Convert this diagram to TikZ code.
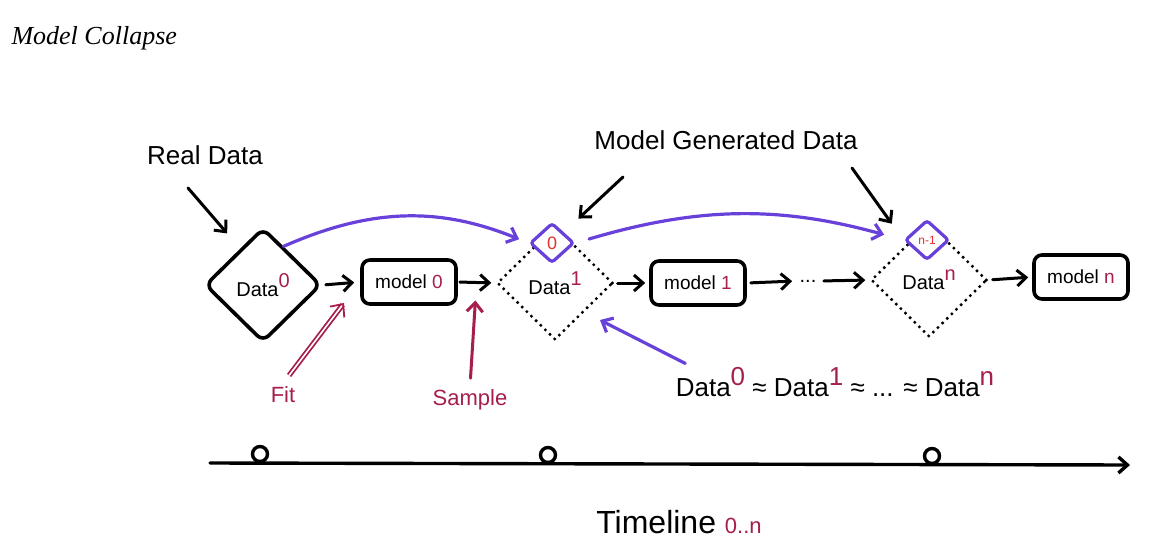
\documentclass[tikz,border=0pt]{standalone}
\usepackage{fontspec}
\setmainfont{Liberation Sans}
\newfontfamily\titlefont{Liberation Serif}
\usetikzlibrary{shapes.geometric,arrows.meta}
\definecolor{genpurple}{HTML}{6741D9}
\definecolor{fitred}{HTML}{A61E4D}
\definecolor{smallred}{HTML}{E03131}
\newcommand{\upnum}[1]{\raisebox{0.85ex}{\color{fitred}#1}}
\newcommand{\fsz}[1]{\fontsize{#1}{#1}\selectfont}
\begin{document}
\begin{tikzpicture}[x=1pt,y=-1pt,
	arr/.style={-{Straight Barb[length=9pt,width=16pt]},line width=3pt,line cap=round},
	purplearr/.style={arr,draw=genpurple,line width=3.2pt},
	redarr/.style={arr,draw=fitred},
	fitarr/.style={-{Straight Barb[length=10pt,width=18pt]},draw=fitred,double=white,double distance=1.6pt,line width=1.8pt},
	datanode/.style={diamond,draw,line width=3.6pt,rounded corners=8pt,minimum width=116pt,minimum height=114pt,inner sep=0pt,font=\fsz{20}},
	gennode/.style={datanode,rounded corners=0pt,line width=3.4pt,dash pattern=on 0pt off 6.5pt,line cap=round},
	smallnode/.style={diamond,draw=genpurple,fill=white,line width=3.2pt,rounded corners=3pt,minimum width=44pt,minimum height=40pt,inner sep=0pt,text=smallred},
	modelnode/.style={rectangle,draw,line width=3.6pt,rounded corners=8pt,minimum width=94pt,minimum height=44pt,font=\fsz{19}},
	note/.style={font=\fsz{26}},
	tick/.style={circle,draw,fill=white,line width=3.4pt,minimum width=12pt,minimum height=15pt,inner sep=0pt}]
	\useasboundingbox (0,0) rectangle (1174,554);
	\node[anchor=west,font=\titlefont\itshape\fsz{26}] (title) at (8,38) {Model Collapse};
	\node[note] (real) at (205,155) {Real Data};
	\node[note] (mgd) at (726,140) {Model Generated Data};
	\node[datanode] (d0) at (263,285) {Data\upnum{0}};
	\node[modelnode] (m0) at (409,282) {model \textcolor{fitred}{0}};
	\node[gennode] (d1) at (555,283) {Data\upnum{1}};
	\node[smallnode,font=\fsz{18}] (s0) at (552,243) {0};
	\node[modelnode] (m1) at (698,283) {model \textcolor{fitred}{1}};
	\node[font=\fsz{20}] (dots) at (808,281) {...};
	\node[gennode] (dn) at (929,280) {Data\upnum{n}};
	\node[smallnode,font=\fsz{12}] (sn) at (927,240) {n-1};
	\node[modelnode] (mn) at (1081,277) {model \textcolor{fitred}{n}};
	\node[font=\fsz{22},text=fitred] (fit) at (283,395) {Fit};
	\node[font=\fsz{22},text=fitred] (sample) at (470,400) {Sample};
	\node[note] (eq) at (835,382) {Data\upnum{0} ≈ Data\upnum{1} ≈ ... ≈ Data\upnum{n}};
	\coordinate (realtail) at (188,188);
	\coordinate (mgdtail1) at (623,177);
	\coordinate (mgdtail2) at (852,168);
	\coordinate (fittip) at (344,303);
	\draw[arr,shorten >=20pt] (realtail) -- (d0.122);
	\draw[arr,shorten >=20pt] (mgdtail1) -- (s0.north east);
	\draw[arr,shorten >=20pt] (mgdtail2) -- (sn.west);
	\draw[arr,shorten <=3pt,shorten >=6pt] (d0.east) -- coordinate (fitpt) (m0.west);
	\draw[arr,shorten <=2pt,shorten >=4pt] (m0.east) -- coordinate (samplept) (d1.west);
	\draw[arr,shorten <=3pt,shorten >=4pt] (d1.east) -- (m1.west);
	\draw[arr,shorten <=4pt,shorten >=4pt] (m1.east) -- (dots.west);
	\draw[arr,shorten <=4pt,shorten >=4pt] (dots.east) -- (dn.west);
	\draw[arr,shorten <=4pt,shorten >=4pt] (dn.east) -- (mn.west);
	\draw[purplearr,shorten >=10pt] (d0.62) to[bend left=23] (s0.west);
	\draw[purplearr,shorten <=14pt,shorten >=20pt] (s0.east) to[bend left=16] (sn.west);
	\draw[purplearr,shorten >=17pt] ([xshift=13pt]eq.north west) -- (d1.south east);
	\draw[fitarr,shorten <=10pt] (fit.north) -- (fittip);
	\draw[redarr,shorten <=8pt,shorten >=18pt] (sample.north) -- (samplept);
	\coordinate (tlstart) at (210,463);
	\coordinate (tlend) at (1130,465);
	\draw[arr,line width=3.4pt] (tlstart) -- (tlend);
	\node[tick] (t0) at (260,454) {};
	\node[tick] (t1) at (548,455) {};
	\node[tick] (t2) at (932,456) {};
	\node[font=\fsz{32}] (timeline) at (679,522) {Timeline \textcolor{fitred}{\fsz{22}0..n}};
\end{tikzpicture}
\end{document}
